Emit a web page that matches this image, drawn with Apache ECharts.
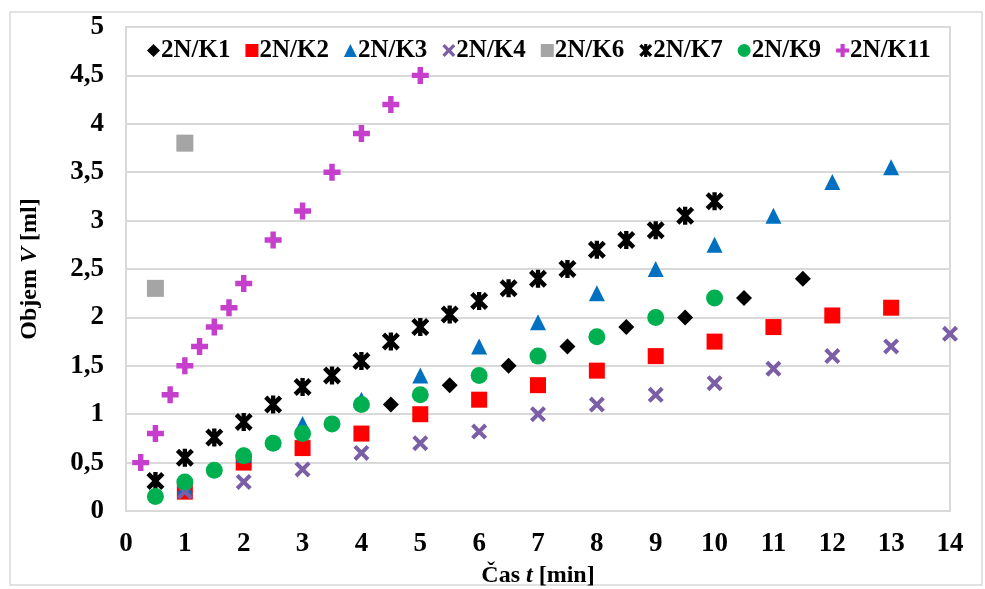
<!DOCTYPE html>
<html>
<head>
<meta charset="utf-8">
<title>Objem - cas</title>
<script src="https://cdn.jsdelivr.net/npm/echarts@6/dist/echarts.min.js"></script>
<style>
  html, body { margin: 0; padding: 0; background: #fff; }
  #main { width: 985px; height: 589px; }
</style>
</head>
<body>
<div id="main"></div>
<script>
// data (time in min, volume in ml)
var k1Time = [2.5, 3.5, 4.5, 5.5, 6.5, 7.5, 8.5, 9.5, 10.5, 11.5];
var k1Vol  = [0.7, 0.9, 1.1, 1.3, 1.5, 1.7, 1.9, 2.0, 2.2, 2.4];
var k2Time = [1, 2, 3, 4, 5, 6, 7, 8, 9, 10, 11, 12, 13];
var k2Vol  = [0.2, 0.5, 0.65, 0.8, 1.0, 1.15, 1.3, 1.45, 1.6, 1.75, 1.9, 2.02, 2.1];
var k3Time = [1, 2, 3, 4, 5, 6, 7, 8, 9, 10, 11, 12, 13];
var k3Vol  = [0.25, 0.58, 0.9, 1.15, 1.4, 1.7, 1.95, 2.25, 2.5, 2.75, 3.05, 3.4, 3.55];
var k4Time = [1, 2, 3, 4, 5, 6, 7, 8, 9, 10, 11, 12, 13, 14];
var k4Vol  = [0.2, 0.3, 0.43, 0.6, 0.7, 0.82, 1.0, 1.1, 1.2, 1.32, 1.47, 1.6, 1.7, 1.83];
var k6Time = [0.5, 1];
var k6Vol  = [2.3, 3.8];
var k7Time = [0.5, 1, 1.5, 2, 2.5, 3, 3.5, 4, 4.5, 5, 5.5, 6, 6.5, 7, 7.5, 8, 8.5, 9, 9.5, 10];
var k7Vol  = [0.31, 0.55, 0.76, 0.92, 1.1, 1.28, 1.4, 1.55, 1.75, 1.9, 2.03, 2.17, 2.3, 2.4, 2.5, 2.7, 2.8, 2.9, 3.05, 3.2];
var k9Time = [0.5, 1, 1.5, 2, 2.5, 3, 3.5, 4, 5, 6, 7, 8, 9, 10];
var k9Vol  = [0.15, 0.3, 0.42, 0.57, 0.7, 0.8, 0.9, 1.1, 1.2, 1.4, 1.6, 1.8, 2.0, 2.2];
var k11Time = [0.25, 0.5, 0.75, 1, 1.25, 1.5, 1.75, 2, 2.5, 3, 3.5, 4, 4.5, 5];
var k11Vol  = [0.5, 0.8, 1.2, 1.5, 1.7, 1.9, 2.1, 2.35, 2.8, 3.1, 3.5, 3.9, 4.2, 4.5];

var FONT = "'Liberation Serif', 'Times New Roman', serif";

// marker shapes
var crossSym = 'path://M0,18 L18,0 L50,32 L82,0 L100,18 L68,50 L100,82 L82,100 L50,68 L18,100 L0,82 L32,50 Z';
var plusSym = 'path://M34,0 H66 V34 H100 V66 H66 V100 H34 V66 H0 V34 H34 Z';
// excel "star": x with a vertical stroke, drawn heavy
var starSym = 'path://M0,18 L18,0 L50,32 L82,0 L100,18 L68,50 L100,82 L82,100 L50,68 L18,100 L0,82 L32,50 Z M38,0 H62 V100 H38 Z';

function pairs(xs, ys) {
  return xs.map(function (x, i) { return [x, ys[i]]; });
}

function mk(name, xs, ys, symbol, size, color) {
  return {
    name: name,
    type: 'scatter',
    symbol: symbol,
    symbolSize: size,
    itemStyle: { color: color, opacity: 1 },
    data: pairs(xs, ys),
    emphasis: { disabled: true },
    animation: false
  };
}

var chart = echarts.init(document.getElementById('main'));

chart.setOption({
  backgroundColor: '#fff',
  textStyle: { fontFamily: FONT },
  graphic: [{
    type: 'rect',
    shape: { x: 10, y: 12, width: 972, height: 573 },
    style: { fill: 'none', stroke: '#d9d9d9', lineWidth: 1.5 },
    silent: true,
    z: -1
  }],
  grid: {
    left: 126, top: 27, width: 824, height: 484,
    containLabel: false,
    outerBoundsMode: 'none',
    show: true, borderColor: '#d9d9d9', borderWidth: 2
  },
  legend: {
    top: 33,
    left: 142,
    itemWidth: 13,
    itemHeight: 13,
    itemGap: 15,
    textStyle: { fontFamily: FONT, fontWeight: 'bold', fontSize: 25, color: '#000', padding: [0, 0, 0, -4] },
    data: ['2N/K1', '2N/K2', '2N/K3', '2N/K4', '2N/K6', '2N/K7', '2N/K9', '2N/K11']
  },
  xAxis: {
    type: 'value',
    min: 0, max: 14, interval: 1,
    name: 'Čas {i|t} [min]',
    nameLocation: 'middle',
    nameGap: 53,
    nameTextStyle: {
      fontFamily: FONT, fontWeight: 'bold', fontSize: 24, color: '#000',
      rich: { i: { fontFamily: FONT, fontWeight: 'bold', fontStyle: 'italic', fontSize: 24, color: '#000' } }
    },
    axisLine: { show: false },
    axisTick: { show: false },
    splitLine: { show: false },
    axisLabel: { fontFamily: FONT, fontWeight: 'bold', fontSize: 27, color: '#000', margin: 20 }
  },
  yAxis: {
    type: 'value',
    min: 0, max: 5, interval: 0.5,
    name: 'Objem {i|V} [ml]',
    nameLocation: 'middle',
    nameGap: 84,
    nameRotate: 90,
    nameTextStyle: {
      fontFamily: FONT, fontWeight: 'bold', fontSize: 24, color: '#000',
      rich: { i: { fontFamily: FONT, fontWeight: 'bold', fontStyle: 'italic', fontSize: 24, color: '#000' } }
    },
    axisLine: { show: false },
    axisTick: { show: false },
    splitLine: { show: true, lineStyle: { color: '#d9d9d9', width: 2 } },
    axisLabel: {
      fontFamily: FONT, fontWeight: 'bold', fontSize: 27, color: '#000', margin: 22,
      formatter: function (v) { return String(v).replace('.', ','); }
    }
  },
  series: [
    mk('2N/K1', k1Time, k1Vol, 'diamond', 16, '#000000'),
    mk('2N/K2', k2Time, k2Vol, 'rect', 16, '#ff0000'),
    mk('2N/K3', k3Time, k3Vol, 'triangle', 16, '#0070c0'),
    mk('2N/K4', k4Time, k4Vol, crossSym, 16, '#7a5ea6'),
    mk('2N/K6', k6Time, k6Vol, 'rect', 17, '#a5a5a5'),
    mk('2N/K7', k7Time, k7Vol, starSym, 18, '#000000'),
    mk('2N/K9', k9Time, k9Vol, 'circle', 17, '#00b050'),
    mk('2N/K11', k11Time, k11Vol, plusSym, 17, '#c63fcc')
  ]
});
</script>
</body>
</html>
